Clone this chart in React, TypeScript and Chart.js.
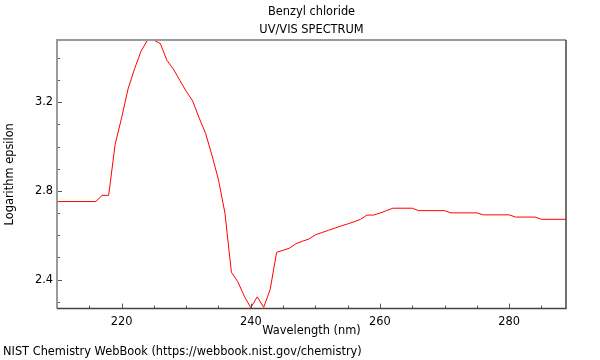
import React, { useEffect, useRef } from "react";
import { Chart, registerables } from "chart.js";

Chart.register(...registerables);

const wavelengths = [
  210, 216, 217, 218, 219, 220, 221, 222, 223, 224, 225, 226, 227, 228, 229, 230,
  231, 232, 233, 234, 235, 236, 237, 238, 239, 240, 241, 242, 243, 244, 245, 246,
  247, 248, 249, 250, 251, 252, 253, 254, 255, 256, 257, 258, 259, 260, 261, 262,
  265, 266, 270, 271, 275, 276, 280, 281, 284, 285, 289,
];
const logEpsilon = [
  2.752, 2.752, 2.78, 2.78, 3.01, 3.13, 3.26, 3.35, 3.43, 3.48, 3.48, 3.465, 3.39, 3.35, 3.3, 3.25,
  3.206, 3.13, 3.06, 2.96, 2.85, 2.7, 2.433, 2.39, 2.325, 2.273, 2.322, 2.275, 2.355, 2.523, 2.532, 2.542,
  2.562, 2.573, 2.583, 2.602, 2.612, 2.622, 2.632, 2.642, 2.651, 2.661, 2.672, 2.691, 2.691, 2.7, 2.711, 2.722,
  2.722, 2.711, 2.711, 2.701, 2.701, 2.692, 2.692, 2.682, 2.682, 2.672, 2.672,
];
const xTicks = [220, 240, 260, 280];
const xMinorTicks = [215, 225, 230, 235, 245, 250, 255, 265, 270, 275, 285];
const yTicks = [2.4, 2.8, 3.2];
const yMinorTicks = [2.3, 2.5, 2.6, 2.7, 2.9, 3.0, 3.1, 3.3, 3.4];

const FONT = "'DejaVu Sans', sans-serif";
const FS = 11.4;

const framePlugin = {
  id: "frameTicks",
  afterDraw(chart: any) {
    const { ctx, chartArea } = chart;
    const { left, right, top, bottom } = chartArea;
    const xs = chart.scales.x;
    const ys = chart.scales.y;
    ctx.save();
    ctx.strokeStyle = "#555";
    ctx.lineWidth = 1;
    ctx.beginPath();
    xTicks.forEach((v) => {
      const px = Math.round(xs.getPixelForValue(v)) + 0.5;
      ctx.moveTo(px, bottom);
      ctx.lineTo(px, bottom - 5);
    });
    xMinorTicks.forEach((v) => {
      const px = Math.round(xs.getPixelForValue(v)) + 0.5;
      ctx.moveTo(px, bottom);
      ctx.lineTo(px, bottom - 3);
    });
    yTicks.forEach((v) => {
      const py = Math.round(ys.getPixelForValue(v)) + 0.5;
      ctx.moveTo(left, py);
      ctx.lineTo(left + 5, py);
    });
    yMinorTicks.forEach((v) => {
      const py = Math.round(ys.getPixelForValue(v)) + 0.5;
      ctx.moveTo(left, py);
      ctx.lineTo(left + 3, py);
    });
    ctx.stroke();
    ctx.lineWidth = 2;
    ctx.strokeStyle = "#9a9a9a";
    ctx.beginPath();
    ctx.moveTo(left, bottom);
    ctx.lineTo(left, top);
    ctx.lineTo(right, top);
    ctx.stroke();
    ctx.strokeStyle = "#444";
    ctx.lineWidth = 1.5;
    ctx.beginPath();
    ctx.moveTo(right, top);
    ctx.lineTo(right, bottom);
    ctx.lineTo(left, bottom);
    ctx.stroke();
    ctx.restore();
  },
};

export default function App() {
  const ref = useRef<HTMLCanvasElement | null>(null);
  useEffect(() => {
    if (!ref.current) return;
    const chart = new Chart(ref.current, {
      type: "line",
      data: {
        datasets: [
          {
            data: wavelengths.map((w, i) => ({ x: w, y: logEpsilon[i] })),
            borderColor: "rgb(255,0,0)",
            borderWidth: 1,
            pointRadius: 0,
            tension: 0,
            fill: false,
          },
        ],
      },
      options: {
        responsive: false,
        animation: false,
        layout: { padding: { left: 3, right: 34, top: 0, bottom: 0 } },
        plugins: {
          legend: { display: false },
          tooltip: { enabled: false },
          title: {
            display: true,
            fullSize: false,
            text: ["Benzyl chloride", "UV/VIS SPECTRUM"],
            color: "#000",
            font: { family: FONT, size: FS, weight: "normal", lineHeight: 18 / FS },
            padding: { top: 3, bottom: 1 },
          },
          subtitle: {
            display: true,
            position: "bottom",
            align: "start",
            text: "NIST Chemistry WebBook (https://webbook.nist.gov/chemistry)",
            color: "#000",
            font: { family: FONT, size: FS, weight: "normal", lineHeight: 14.4 / FS },
            padding: { top: 0, bottom: 1 },
          },
        },
        scales: {
          x: {
            type: "linear",
            min: 210,
            max: 288.8,
            grid: { display: false, drawTicks: false },
            border: { display: false },
            afterBuildTicks: (s: any) => {
              s.ticks = xTicks.map((v) => ({ value: v }));
            },
            afterFit: (s: any) => {
              s.height = 36;
            },
            ticks: {
              color: "#000",
              font: { family: FONT, size: FS },
              padding: 7,
              maxRotation: 0,
              callback: (v: any) => String(v),
            },
            title: {
              display: true,
              text: "Wavelength (nm)",
              color: "#000",
              font: { family: FONT, size: FS, lineHeight: 14.4 / FS },
              padding: { top: 0, bottom: 6 },
            },
          },
          y: {
            type: "linear",
            min: 2.269,
            max: 3.481,
            grid: { display: false, drawTicks: false },
            border: { display: false },
            afterBuildTicks: (s: any) => {
              s.ticks = yTicks.map((v) => ({ value: v }));
            },
            afterFit: (s: any) => {
              s.width = 54;
            },
            ticks: {
              color: "#000",
              font: { family: FONT, size: FS },
              padding: 4,
              callback: (v: any) => Number(v).toFixed(1),
            },
            title: {
              display: true,
              text: "Logarithm epsilon",
              color: "#000",
              font: { family: FONT, size: FS, lineHeight: 14.4 / FS },
              padding: { top: 0, bottom: 0 },
            },
          },
        },
      },
      plugins: [framePlugin],
    });
    return () => chart.destroy();
  }, []);
  return (
    <div style={{ position: "fixed", left: 0, top: 0, width: 600, height: 360, background: "#fff" }}>
      <canvas ref={ref} width={600} height={360} style={{ display: "block" }} />
    </div>
  );
}
